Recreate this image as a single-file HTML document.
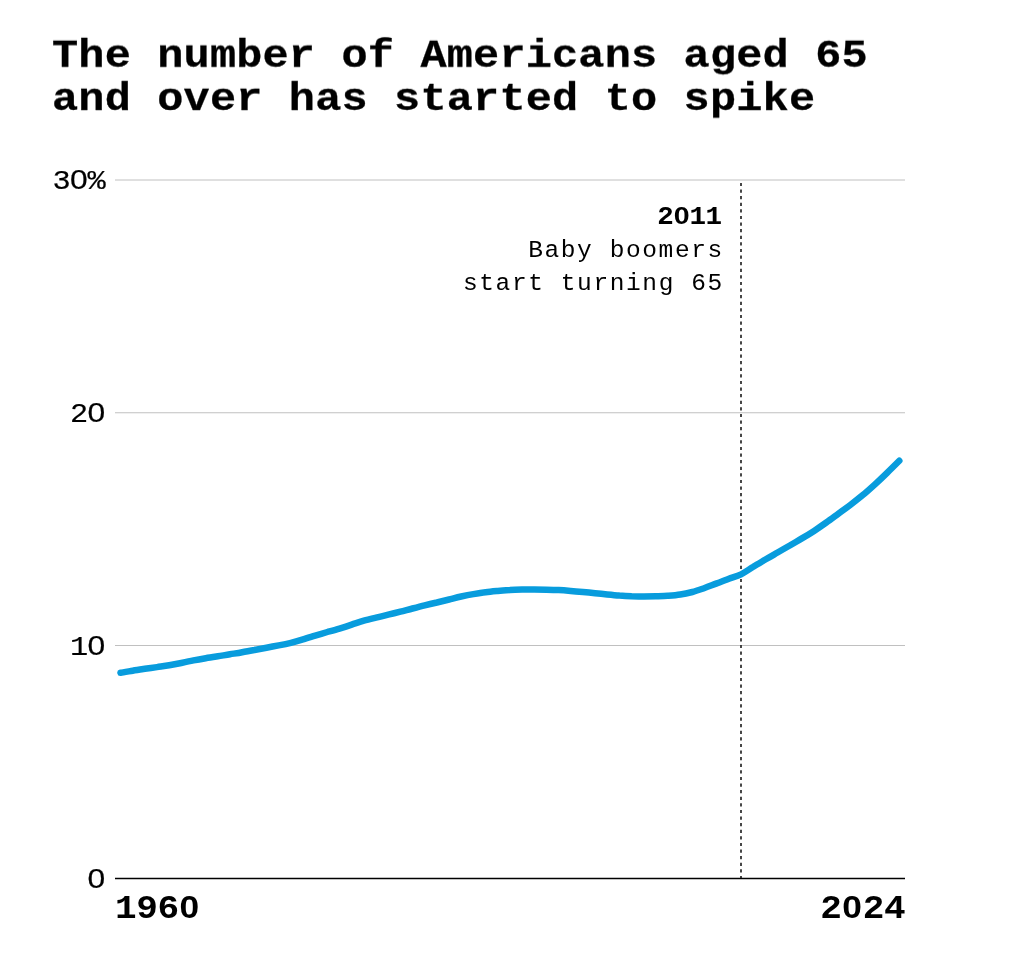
<!DOCTYPE html>
<html><head><meta charset="utf-8"><style>
html,body{margin:0;padding:0;background:#fff;}
body{width:1024px;height:965px;position:relative;overflow:hidden;}
.t{position:absolute;white-space:pre;color:#000;will-change:transform;}
.title{font-family:"Liberation Mono",monospace;font-weight:bold;font-size:41.5px;letter-spacing:0.16px;line-height:44.8px;left:52px;top:35.2px;transform:scale(1.05,0.96);transform-origin:0 0;-webkit-text-stroke:0.3px #000;}
.yl{font-family:"Liberation Mono",monospace;font-size:27.7px;line-height:28px;right:919.5px;text-align:right;transform:scaleX(1.094);transform-origin:100% 50%;letter-spacing:-0.62px;-webkit-text-stroke:0.2px #000;}
.xl{font-family:"Liberation Mono",monospace;font-weight:bold;font-size:32.8px;line-height:33px;letter-spacing:-0.4px;transform:scaleX(1.1);}
.ann{font-family:"Liberation Mono",monospace;font-size:24.5px;line-height:33px;letter-spacing:1.6px;right:300px;text-align:right;top:200.8px;}
.yr{font-family:"Liberation Mono",monospace;font-weight:bold;font-size:25.5px;line-height:33px;letter-spacing:-0.6px;right:302.8px;text-align:right;top:200.8px;transform:scaleX(1.08);transform-origin:100% 50%;}
.z{font-family:"Liberation Sans",sans-serif;font-size:0.959em;display:inline-block;text-align:center;letter-spacing:0;line-height:0;}
</style></head><body>
<div class="t title">The number of Americans aged 65
and over has started to spike</div>
<svg width="1024" height="965" style="position:absolute;left:0;top:0">
<g stroke="#c0c0c0" stroke-width="1">
<line x1="115" y1="180" x2="905" y2="180"/>
<line x1="115" y1="412.75" x2="905" y2="412.75"/>
<line x1="115" y1="645.5" x2="905" y2="645.5"/>
</g>
<line x1="741" y1="182.9" x2="741" y2="878" stroke="#333" stroke-width="1.8" stroke-dasharray="3.2 3.4"/>
<line x1="115" y1="878.5" x2="905" y2="878.5" stroke="#000" stroke-width="1.7"/>
<path d="M120.5 672.8 C122.5 672.4 128.6 671.4 132.7 670.7 C136.7 670.0 140.8 669.4 144.8 668.8 C148.9 668.2 152.9 667.7 157.0 667.1 C161.1 666.5 165.1 666.0 169.2 665.3 C173.2 664.6 177.3 663.8 181.3 663.0 C185.4 662.1 189.5 661.2 193.5 660.4 C197.6 659.6 201.6 658.9 205.7 658.2 C209.7 657.5 213.8 656.9 217.8 656.3 C221.9 655.6 226.0 655.0 230.0 654.3 C234.1 653.6 238.1 653.0 242.2 652.2 C246.2 651.5 250.3 650.7 254.4 650.0 C258.4 649.2 262.5 648.4 266.5 647.7 C270.6 646.9 274.6 646.2 278.7 645.4 C282.8 644.6 286.8 643.8 290.9 642.8 C294.9 641.8 299.0 640.6 303.0 639.4 C307.1 638.1 311.1 636.8 315.2 635.6 C319.3 634.4 323.3 633.2 327.4 632.0 C331.4 630.9 335.5 629.8 339.5 628.6 C343.6 627.3 347.6 626.0 351.7 624.6 C355.8 623.3 359.8 621.9 363.9 620.7 C367.9 619.6 372.0 618.6 376.0 617.6 C380.1 616.6 384.2 615.7 388.2 614.7 C392.3 613.8 396.3 612.8 400.4 611.7 C404.4 610.7 408.5 609.5 412.5 608.5 C416.6 607.4 420.7 606.3 424.7 605.3 C428.8 604.3 432.8 603.4 436.9 602.5 C440.9 601.5 445.0 600.5 449.1 599.5 C453.1 598.5 457.2 597.4 461.2 596.5 C465.3 595.6 469.3 594.8 473.4 594.1 C477.4 593.4 481.5 592.7 485.6 592.2 C489.6 591.7 493.7 591.3 497.7 590.9 C501.8 590.5 505.8 590.3 509.9 590.1 C514.0 589.8 518.0 589.7 522.1 589.6 C526.1 589.5 530.2 589.5 534.2 589.5 C538.3 589.5 542.4 589.6 546.4 589.7 C550.5 589.8 554.5 589.9 558.6 590.1 C562.6 590.3 566.7 590.6 570.7 590.9 C574.8 591.2 578.9 591.6 582.9 592.0 C587.0 592.4 591.0 592.8 595.1 593.2 C599.1 593.6 603.2 594.1 607.2 594.5 C611.3 594.9 615.4 595.3 619.4 595.6 C623.5 595.8 627.5 596.0 631.6 596.2 C635.6 596.3 639.7 596.4 643.8 596.4 C647.8 596.4 651.9 596.4 655.9 596.3 C660.0 596.2 664.0 596.0 668.1 595.8 C672.1 595.5 676.2 595.2 680.3 594.5 C684.3 593.9 688.4 593.0 692.4 592.0 C696.5 590.9 700.5 589.4 704.6 588.0 C708.7 586.6 712.7 584.9 716.8 583.4 C720.8 581.9 724.9 580.4 728.9 578.8 C733.0 577.3 737.0 576.3 741.1 574.3 C745.2 572.3 749.2 569.2 753.3 566.8 C757.3 564.3 761.4 561.9 765.4 559.5 C769.5 557.2 773.6 554.8 777.6 552.5 C781.7 550.1 785.7 547.8 789.8 545.5 C793.8 543.1 797.9 540.8 801.9 538.4 C806.0 536.0 810.1 533.5 814.1 530.9 C818.2 528.2 822.2 525.4 826.3 522.5 C830.3 519.7 834.4 516.6 838.5 513.6 C842.5 510.6 846.6 507.8 850.6 504.7 C854.7 501.6 858.7 498.5 862.8 495.1 C866.8 491.7 870.9 488.0 875.0 484.3 C879.0 480.6 883.1 476.7 887.1 472.8 C891.2 468.9 897.3 462.8 899.3 460.8" fill="none" stroke="#089cdd" stroke-width="6.5" stroke-linecap="round" stroke-linejoin="round"/>
</svg>
<div class="t yl" style="top:168.4px">3<span class="z" style="width:16px;font-size:0.98em;transform:scaleX(1.07)">0</span>%</div>
<div class="t yl" style="top:401.2px">2<span class="z" style="width:16px;font-size:0.98em;transform:scaleX(1.07)">0</span></div>
<div class="t yl" style="top:633.9px">1<span class="z" style="width:16px;font-size:0.98em;transform:scaleX(1.07)">0</span></div>
<div class="t yl" style="top:866.8px"><span class="z" style="width:16px;font-size:0.98em;transform:scaleX(1.07)">0</span></div>
<div class="t xl" style="left:114.9px;top:892.7px;transform-origin:0 50%">196<span class="z" style="width:19.28px;font-size:0.98em">0</span></div>
<div class="t xl" style="right:118.5px;top:892.7px;transform-origin:100% 50%">2<span class="z" style="width:19.28px;font-size:0.98em">0</span>24</div>
<div class="t yr">2<span class="z" style="width:15.2px;font-size:0.96em;transform:scaleX(1.08)">0</span>11</div>
<div class="t ann">
Baby boomers
start turning 65</div>
</body></html>
